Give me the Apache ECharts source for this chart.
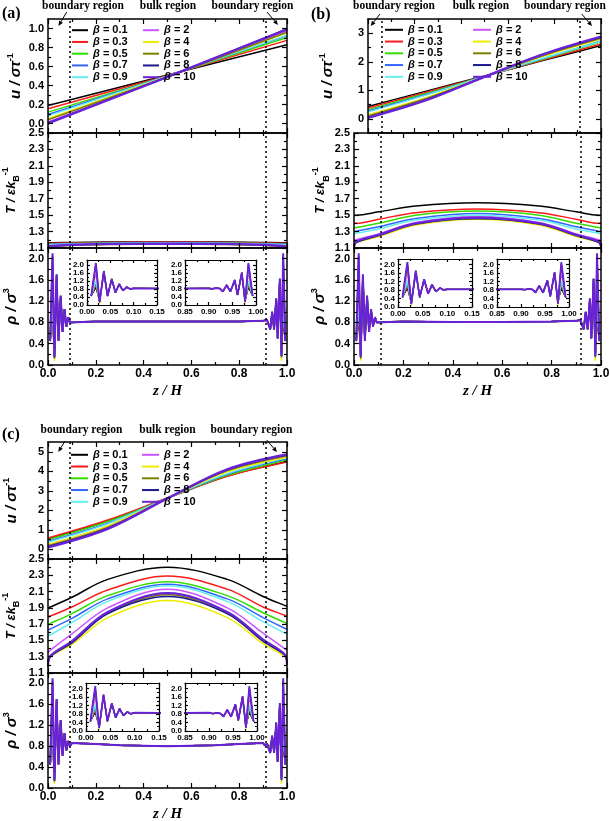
<!DOCTYPE html>
<html><head><meta charset="utf-8">
<script src="https://cdn.jsdelivr.net/npm/echarts@6/dist/echarts.min.js"></script>
<style>html,body{margin:0;padding:0;background:#fff}#c{width:610px;height:821px}</style>
</head><body><div id="c"></div>
<script>
// ---------------- data ----------------
const betaNames = ['β = 0.1','β = 0.3','β = 0.5','β = 0.7','β = 0.9','β = 2','β = 4','β = 6','β = 8','β = 10'];
const betaColors = ['#000000','#ff1a1a','#33dd00','#3366ff','#66eeee','#cc55ff','#eeee00','#808000','#1a1a8c','#6a22d8'];

// velocity u (panel a: z = 0, 0.5, 1)
const uZA = [0, 0.5, 1];
const uA = [
 [0.19,0.51,0.83],[0.155,0.505,0.875],[0.12,0.50,0.905],[0.095,0.50,0.925],[0.08,0.50,0.93],
 [0.015,0.49,0.975],[0.05,0.495,0.955],[0.04,0.49,0.96],[0.007,0.49,0.995],[0.0,0.49,0.99]
];
// velocity u (panels b, c: z = 0, .25, .5, .75, 1)
const uZ = [0, 0.25, 0.5, 0.75, 1];
const uB = [
 [0.43,0.97,1.50,2.04,2.57],[0.38,0.93,1.49,2.06,2.62],[0.32,0.89,1.49,2.09,2.69],[0.27,0.85,1.48,2.11,2.73],[0.24,0.83,1.48,2.12,2.71],
 [0.12,0.72,1.47,2.21,2.85],[0.14,0.74,1.47,2.19,2.80],[0.10,0.71,1.47,2.21,2.82],[0.05,0.67,1.47,2.25,2.86],[0.03,0.65,1.47,2.26,2.88]
];
const uC = [
 [0.52,1.45,2.62,3.75,4.50],[0.58,1.50,2.64,3.74,4.47],[0.49,1.42,2.62,3.79,4.58],[0.40,1.33,2.62,3.85,4.64],[0.36,1.30,2.62,3.88,4.69],
 [0.22,1.16,2.61,4.00,4.77],[0.26,1.20,2.61,3.97,4.72],[0.18,1.12,2.61,4.03,4.80],[0.14,1.08,2.61,4.07,4.83],[0.10,1.05,2.61,4.10,4.86]
];
// temperature T
const tZ = [0, 0.01, 0.1, 0.25, 0.5, 0.75, 0.9, 0.99, 1];
const tA = [
 [1.165,1.165,1.168,1.172,1.174,1.172,1.168,1.165,1.165],
 [1.158,1.158,1.162,1.167,1.169,1.167,1.162,1.158,1.158],
 [1.150,1.150,1.155,1.161,1.164,1.161,1.155,1.150,1.150],
 [1.145,1.146,1.151,1.158,1.161,1.158,1.151,1.146,1.145],
 [1.140,1.141,1.147,1.155,1.158,1.155,1.147,1.141,1.140],
 [1.125,1.130,1.140,1.150,1.154,1.150,1.140,1.130,1.125],
 [1.110,1.122,1.133,1.143,1.147,1.143,1.133,1.122,1.110],
 [1.105,1.122,1.135,1.146,1.150,1.146,1.135,1.122,1.105],
 [1.100,1.120,1.136,1.147,1.151,1.147,1.136,1.120,1.100],
 [1.095,1.120,1.137,1.148,1.152,1.148,1.137,1.120,1.095]
];
const tB = [
 [1.50,1.50,1.54,1.61,1.65,1.61,1.54,1.50,1.50],
 [1.40,1.40,1.45,1.53,1.575,1.53,1.45,1.40,1.40],
 [1.345,1.35,1.40,1.50,1.55,1.50,1.40,1.35,1.345],
 [1.30,1.305,1.36,1.46,1.52,1.46,1.36,1.305,1.30],
 [1.27,1.28,1.33,1.44,1.50,1.44,1.33,1.28,1.27],
 [1.18,1.20,1.27,1.41,1.48,1.41,1.27,1.20,1.18],
 [1.14,1.17,1.24,1.38,1.45,1.38,1.24,1.17,1.14],
 [1.13,1.17,1.25,1.39,1.455,1.39,1.25,1.17,1.13],
 [1.12,1.17,1.255,1.395,1.46,1.395,1.255,1.17,1.12],
 [1.12,1.18,1.26,1.40,1.47,1.40,1.26,1.18,1.12]
];
const tC = [
 [1.90,1.91,2.03,2.25,2.40,2.25,2.04,1.93,1.92],
 [1.79,1.80,1.91,2.12,2.29,2.13,1.91,1.81,1.80],
 [1.70,1.71,1.83,2.05,2.22,2.05,1.84,1.72,1.71],
 [1.63,1.64,1.77,2.01,2.19,2.01,1.78,1.65,1.64],
 [1.56,1.57,1.72,1.98,2.17,1.98,1.73,1.59,1.58],
 [1.35,1.38,1.58,1.90,2.13,1.90,1.59,1.40,1.38],
 [1.19,1.30,1.45,1.78,1.99,1.78,1.46,1.30,1.21],
 [1.17,1.30,1.47,1.83,2.06,1.83,1.49,1.32,1.20],
 [1.17,1.30,1.47,1.83,2.04,1.83,1.49,1.32,1.20],
 [1.20,1.31,1.49,1.85,2.08,1.85,1.51,1.33,1.20]
];
// density rho
const rhoZLeft = [0.009,0.019,0.027,0.036,0.044,0.053,0.061,0.069,0.077,0.085,0.092];
const rhoLeft = [
 [0.45,0.88,0.20,1.60,0.50,1.25,0.65,1.00,0.74,0.88,0.81],
 [0.45,1.00,0.18,1.62,0.48,1.26,0.64,1.02,0.73,0.89,0.81],
 [0.45,1.10,0.17,1.65,0.47,1.27,0.63,1.03,0.73,0.89,0.81],
 [0.45,1.15,0.16,1.66,0.46,1.28,0.63,1.04,0.72,0.89,0.80],
 [0.45,1.22,0.16,1.67,0.46,1.29,0.62,1.04,0.72,0.90,0.80],
 [0.45,1.60,0.15,1.68,0.45,1.30,0.62,1.05,0.72,0.90,0.80],
 [0.45,1.90,0.08,1.70,0.45,1.30,0.62,1.05,0.72,0.90,0.80],
 [0.45,2.00,0.12,1.70,0.45,1.30,0.62,1.05,0.72,0.90,0.80],
 [0.45,2.05,0.14,1.70,0.45,1.30,0.62,1.05,0.72,0.90,0.80],
 [0.45,2.10,0.15,1.70,0.45,1.30,0.62,1.05,0.72,0.90,0.80]
];
const rhoZBulk = [0.1,0.2,0.3,0.4,0.5,0.6,0.7,0.8,0.9];
const rhoBulkA = [0.83,0.82,0.82,0.82,0.82,0.82,0.82,0.82,0.83];
const rhoBulkB = [0.83,0.82,0.815,0.81,0.81,0.81,0.815,0.82,0.83];
const rhoBulkC = [0.86,0.84,0.82,0.81,0.80,0.81,0.82,0.84,0.86];
const rhoZRight = [0.908,0.916,0.924,0.930,0.938,0.946,0.955,0.961,0.970,0.977,0.984,0.993];
const rhoRight = [
 [0.82,0.84,0.82,0.70,0.95,0.70,1.20,0.52,1.55,0.22,0.88,0.45],
 [0.82,0.84,0.82,0.69,0.97,0.69,1.22,0.51,1.58,0.20,1.00,0.45],
 [0.82,0.85,0.82,0.68,0.98,0.68,1.23,0.51,1.60,0.19,1.10,0.45],
 [0.81,0.85,0.82,0.68,0.99,0.68,1.24,0.50,1.61,0.18,1.15,0.45],
 [0.81,0.85,0.82,0.67,1.00,0.67,1.24,0.50,1.61,0.18,1.22,0.45],
 [0.81,0.85,0.82,0.67,1.00,0.67,1.25,0.50,1.62,0.17,1.60,0.45],
 [0.81,0.85,0.82,0.67,1.00,0.67,1.25,0.50,1.62,0.08,1.90,0.45],
 [0.81,0.85,0.82,0.67,1.00,0.67,1.25,0.50,1.62,0.14,2.00,0.45],
 [0.81,0.85,0.82,0.67,1.00,0.67,1.25,0.50,1.62,0.16,2.05,0.45],
 [0.81,0.85,0.82,0.67,1.00,0.67,1.25,0.50,1.62,0.17,2.10,0.45]
];
// region boundaries (z)
const boundA = [0.087, 0.913];
const boundBu = [0.059, 0.91];
const boundB = [0.112, 0.915];
const boundC = [0.085, 0.911];
// ticks
const xTicks = [0,0.2,0.4,0.6,0.8,1.0], xMinor = [0.1,0.3,0.5,0.7,0.9];
const uTicksA = [0,0.2,0.4,0.6,0.8,1.0], uMinorA = [0.1,0.3,0.5,0.7,0.9];
const uTicksB = [0,1,2,3], uMinorB = [0.5,1.5,2.5];
const uTicksC = [0,1,2,3,4,5], uMinorC = [0.5,1.5,2.5,3.5,4.5];
const tTicks = [1.1,1.3,1.5,1.7,1.9,2.1,2.3,2.5], tMinor = [1.2,1.4,1.6,1.8,2.0,2.2,2.4];
const rhoTicks = [0,0.4,0.8,1.2,1.6,2.0], rhoMinor = [0.2,0.6,1.0,1.4,1.8];
const insXL = [0,0.05,0.1,0.15], insXLMinor = [0.025,0.075,0.125];
const insXR = [0.85,0.9,0.95,1.0], insXRMinor = [0.875,0.925,0.975];

// ---------------- build ----------------
const SANS = '"Liberation Sans", Arial, sans-serif';
const SERIF = '"Liberation Serif", "Times New Roman", serif';
const grids = [], xAxes = [], yAxes = [], series = [], legends = [], graphics = [];

function ax(g, pos, min, max, vals, o) {
  return {
    type:'value', gridIndex:g, position:pos, min:min, max:max, offset:0,
    axisLine:{show:!!o.line, onZero:false, lineStyle:{color:'#000', width:o.lw||1.5}},
    axisTick:{show:true, inside:true, length:o.tickLen, customValues:vals, lineStyle:{color:'#000', width:o.tw||1.2}},
    axisLabel:{show:!!o.labels, customValues:vals, margin:o.margin||3, hideOverlap:false,
      formatter:(v)=>Number(v).toFixed(o.dec||0), color:'#000', fontSize:o.fs||11, fontWeight:'bold', fontFamily:SANS},
    splitLine:{show:false}, minorTick:{show:false},
    name:o.name||'', nameLocation:'middle', nameGap:o.nameGap||0, nameTextStyle:o.nameStyle||{},
    z:o.z||5, silent:true
  };
}
function addGrid(L,T,R,B,c) {
  const g = grids.length;
  grids.push({left:L, top:T, width:R-L, height:B-T, containLabel:false, outerBoundsMode:'none',
    show:!!c.bg, backgroundColor:c.bg||'transparent', borderWidth:0, z:c.bg?3:0});
  const tl = c.tickLen||5, tm = c.minorLen||3, lw = c.lw||1.5, fs = c.fs||11, z = c.bg?12:5;
  xAxes.push(ax(g,'bottom',c.xMin,c.xMax,c.xMaj,{line:true,tickLen:tl,lw,z,labels:c.xLabels,dec:c.xDec,fs:c.xfs||fs,margin:c.xMargin||3,name:c.xName,nameGap:c.xNameGap,nameStyle:c.xNameStyle}));
  xAxes.push(ax(g,'bottom',c.xMin,c.xMax,c.xMin2,{tickLen:tm,z}));
  xAxes.push(ax(g,'top',c.xMin,c.xMax,c.xMaj,{line:true,tickLen:tl,lw,z}));
  xAxes.push(ax(g,'top',c.xMin,c.xMax,c.xMin2,{tickLen:tm,z}));
  yAxes.push(ax(g,'left',c.yMin,c.yMax,c.yMaj,{line:true,tickLen:tl,lw,z,labels:true,dec:c.yDec,fs,margin:c.yMargin||4,name:c.yName,nameGap:c.yNameGap,nameStyle:c.yNameStyle}));
  yAxes.push(ax(g,'left',c.yMin,c.yMax,c.yMin2,{tickLen:tm,z}));
  yAxes.push(ax(g,'right',c.yMin,c.yMax,c.yMaj,{line:true,tickLen:tl,lw,z}));
  yAxes.push(ax(g,'right',c.yMin,c.yMax,c.yMin2,{tickLen:tm,z}));
  return g;
}
function addLine(g, zs, vs, i, o) {
  const s = {type:'line', name:betaNames[i], xAxisIndex:4*g, yAxisIndex:4*g,
    data: zs.map((z,k)=>[z, vs[k]]), symbol:'none', showSymbol:false,
    smooth:o.smooth||false, clip:true, silent:true, z:o.z||2,
    lineStyle:{color:betaColors[i], width:(i===9?o.w9:o.w)}, itemStyle:{color:betaColors[i]}};
  if (o.bounds && i===0) {
    s.markLine = {silent:true, symbol:['none','none'], animation:false, label:{show:false},
      lineStyle:{color:'#000', type:[2,3], width:1.5}, data:o.bounds.map(b=>({xAxis:b}))};
  }
  series.push(s);
}
const nameRich = {
  i:{fontSize:15, fontWeight:'bold', fontStyle:'italic', fontFamily:SANS, lineHeight:20, color:'#000'},
  it:{fontSize:13, fontWeight:'bold', fontStyle:'italic', fontFamily:SANS, lineHeight:20, color:'#000'},
  sup:{fontSize:9, fontWeight:'bold', fontFamily:SANS, verticalAlign:'top', lineHeight:9, color:'#000'},
  sub:{fontSize:9, fontWeight:'bold', fontFamily:SANS, verticalAlign:'bottom', lineHeight:9, color:'#000'}
};
const nameStyle = {rich:nameRich, color:'#000'};
const uName = '{i|u / στ}{sup|-1}';
const tName = '{it|T / εk}{sub|B}{sup|-1}';
const rName = '{i|ρ / σ}{sup|3}';
const zName = '{z|z / H}';
const zStyle = {rich:{z:{fontSize:15, fontWeight:'bold', fontStyle:'italic', fontFamily:SERIF, color:'#000'}}};

const panels = [
 {tag:'(a)', L:48, Lu:48, R:287, y0:19, y1:133, y2:248, y3:365, uMin:-0.1, uMax:1.1, uMaj:uTicksA, uMin2:uMinorA, uDec:1,
  uz:uZA, u:uA, t:tA, rb:rhoBulkA, bu:boundA, bt:boundA, gaps:[22,27,26], smoothU:false,
  ins:[[87,260,157,305],[185,260,256,305]], leg:[72,143,24.7,16],
  txt:{tag:[2,14], b1:83, bk:168, b2:252.5, ty:6}, arr:[[66.7,12,58.5,26],[267,12,278,25]]},
 {tag:'(b)', L:354, Lu:368, R:601, y0:19, y1:133, y2:248, y3:365, uMin:-0.5, uMax:3.5, uMaj:uTicksB, uMin2:uMinorB, uDec:0,
  uz:uZ, u:uB, t:tB, rb:rhoBulkB, bu:boundBu, bt:boundB, gaps:[30,22,24], smoothU:true,
  ins:[[398,259,472,307],[497,259,569,307]], leg:[385,473,24.3,18],
  txt:{tag:[311,15], b1:394, bk:481, b2:565, ty:6}, arr:[[380,14,370.7,26],[581.7,14,592,26]]},
 {tag:'(c)', L:48, Lu:48, R:287, y0:442, y1:559, y2:673, y3:788, uMin:-0.5, uMax:5.5, uMaj:uTicksC, uMin2:uMinorC, uDec:0,
  uz:uZ, u:uC, t:tC, rb:rhoBulkC, bu:boundC, bt:boundC, gaps:[26,27,26], smoothU:true,
  ins:[[86,683,159,731],[185,683,257,731]], leg:[71,142,449.3,17],
  txt:{tag:[2,435], b1:81.5, bk:167.5, b2:251.5, ty:430}, arr:[[65,441,58.3,452],[266.7,440,277,452]]}
];

panels.forEach(p => {
  // u
  const gu = addGrid(p.Lu,p.y0,p.R,p.y1,{xMin:0,xMax:1,xMaj:xTicks,xMin2:xMinor,yMin:p.uMin,yMax:p.uMax,yMaj:p.uMaj,yMin2:p.uMin2,yDec:p.uDec,
    yName:uName, yNameGap:p.gaps[0], yNameStyle:nameStyle});
  for (let i=0;i<10;i++) addLine(gu, p.uz, p.u[i], i, {w:1.5, w9:2.4, smooth:p.smoothU?0.35:false, bounds:p.bu});
  // T
  const gt = addGrid(p.L,p.y1,p.R,p.y2,{xMin:0,xMax:1,xMaj:xTicks,xMin2:xMinor,yMin:1.1,yMax:2.5,yMaj:tTicks,yMin2:tMinor,yDec:1,
    yName:tName, yNameGap:p.gaps[1], yNameStyle:nameStyle});
  for (let i=0;i<10;i++) addLine(gt, tZ, p.t[i], i, {w:1.5, w9:2.2, smooth:0.35, bounds:p.bt});
  // rho
  const gr = addGrid(p.L,p.y2,p.R,p.y3,{xMin:0,xMax:1,xMaj:xTicks,xMin2:xMinor,xLabels:true,xDec:1,xfs:12,xName:zName,xNameGap:19,xNameStyle:zStyle,
    yMin:0,yMax:2.2,yMaj:rhoTicks,yMin2:rhoMinor,yDec:1, yName:rName, yNameGap:p.gaps[2], yNameStyle:nameStyle});
  const rz = rhoZLeft.concat(rhoZBulk, rhoZRight);
  for (let i=0;i<10;i++) addLine(gr, rz, rhoLeft[i].concat(p.rb, rhoRight[i]), i, {w:1.5, w9:2.0, bounds:p.bt});
  // insets
  p.ins.forEach((b,k) => {
    const gi = addGrid(b[0],b[1],b[2],b[3],{xMin:k?0.85:0,xMax:k?1.0:0.15,xMaj:k?insXR:insXL,xMin2:k?insXRMinor:insXLMinor,xLabels:true,xDec:2,
      yMin:0,yMax:2.25,yMaj:rhoTicks,yMin2:rhoMinor,yDec:1,fs:8,tickLen:3,minorLen:2,lw:1.2,xMargin:3,yMargin:3,bg:'#fff'});
    for (let i=0;i<10;i++) addLine(gi, rz, rhoLeft[i].concat(p.rb, rhoRight[i]), i, {w:1.2, w9:1.8, z:10});
  });
  // legends
  const fmt = n => '{b|β}{t|' + n.slice(1) + '}';
  const ts = {rich:{b:{fontStyle:'italic', fontWeight:'bold', fontSize:11, fontFamily:SANS, color:'#000', lineHeight:10},
                    t:{fontWeight:'bold', fontSize:11, fontFamily:SANS, color:'#000', lineHeight:10}}};
  [0,1].forEach(c => legends.push({left:p.leg[c], top:p.leg[2], orient:'vertical', padding:0, itemGap:0.75,
    itemWidth:p.leg[3], itemHeight:2, icon:'rect', selectedMode:false, data:betaNames.slice(c*5,c*5+5), formatter:fmt, textStyle:ts}));
  // texts
  const T = p.txt;
  graphics.push({type:'text', x:T.tag[0], y:T.tag[1], style:{text:p.tag, font:'bold 16px '+SERIF, fill:'#000', textVerticalAlign:'middle', verticalAlign:'middle'}});
  [['boundary region',T.b1],['bulk region',T.bk],['boundary region',T.b2]].forEach(([s,x]) =>
    graphics.push({type:'text', x:x, y:T.ty, style:{text:s, font:'bold 11.5px '+SERIF, fill:'#000', textAlign:'center', align:'center', textVerticalAlign:'middle', verticalAlign:'middle'}}));
  p.arr.forEach(a => {
    const [x1,y1,x2,y2] = a; const dx=x2-x1, dy=y2-y1, L=Math.hypot(dx,dy), ux=dx/L, uy=dy/L;
    const bx=x2-ux*5, by=y2-uy*5;
    graphics.push({type:'line', shape:{x1,y1,x2:bx,y2:by}, style:{stroke:'#000', lineWidth:1}});
    graphics.push({type:'polygon', shape:{points:[[x2,y2],[bx-uy*2.2,by+ux*2.2],[bx+uy*2.2,by-ux*2.2]]}, style:{fill:'#000'}});
  });
});

const chart = echarts.init(document.getElementById('c'), null, {renderer:'canvas'});
chart.setOption({animation:false, backgroundColor:'#fff', grid:grids, xAxis:xAxes, yAxis:yAxes, series, legend:legends, graphic:{elements:graphics}});
</script></body></html>
